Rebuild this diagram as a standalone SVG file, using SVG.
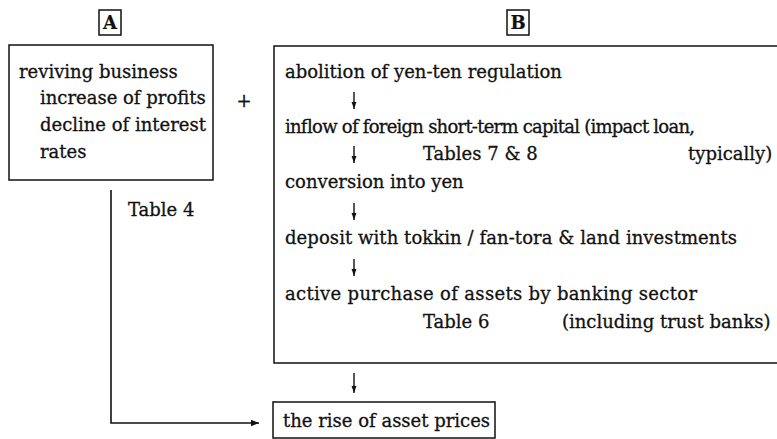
<svg xmlns="http://www.w3.org/2000/svg" width="777" height="439" viewBox="0 0 777 439">
<defs>
<style>
text{font-family:"DejaVu Serif","Liberation Serif",serif;font-size:18px;fill:#111;stroke:#111;stroke-width:0.3;}
.lbl{font-weight:bold;font-size:18px;stroke-width:0.2;}
.box{fill:none;stroke:#111;stroke-width:1.5;}
.conn{fill:none;stroke:#111;stroke-width:1.6;}
.small{fill:none;stroke:#111;stroke-width:1.4;}
</style>
<marker id="ah" viewBox="0 0 10 10" refX="10" refY="5" markerWidth="8" markerHeight="8" markerUnits="userSpaceOnUse" orient="auto">
<path d="M0,1 L10,5 L0,9 Z" fill="#111"/>
</marker>
<marker id="ahs" viewBox="0 0 10 10" refX="10" refY="5" markerWidth="7" markerHeight="7" markerUnits="userSpaceOnUse" orient="auto">
<path d="M0,1.5 L10,5 L0,8.5 Z" fill="#111"/>
</marker>
</defs>
<rect width="777" height="439" fill="#fff"/>

<g id="labelA">
<rect class="box" x="99" y="10" width="22" height="25"/>
<text class="lbl" x="110" y="29" text-anchor="middle">A</text>
</g>
<g id="labelB">
<rect class="box" x="507" y="10" width="22" height="25"/>
<text class="lbl" x="518" y="29" text-anchor="middle">B</text>
</g>

<g id="nodeA">
<rect class="box" x="9" y="45" width="204" height="135"/>
<text x="19" y="78">reviving business</text>
<text x="40" y="104">increase of profits</text>
<text x="40" y="131">decline of interest</text>
<text x="40" y="158">rates</text>
</g>

<g id="plus">
<text x="244" y="107" text-anchor="middle">+</text>
</g>

<g id="nodeB">
<path class="box" d="M777,46 H274 V363 H777"/>
<text x="285" y="78">abolition of yen-ten regulation</text>
<text x="285" y="133" textLength="410" lengthAdjust="spacing">inflow of foreign short-term capital (impact loan,</text>
<text x="423" y="160">Tables 7 &amp; 8</text>
<text x="688" y="160">typically)</text>
<text x="285" y="188">conversion into yen</text>
<text x="285" y="244" textLength="452" lengthAdjust="spacing">deposit with tokkin / fan-tora &amp; land investments</text>
<text x="285" y="300" textLength="412" lengthAdjust="spacing">active purchase of assets by banking sector</text>
<text x="423" y="328">Table 6</text>
<text x="562" y="328">(including trust banks)</text>
</g>

<g id="nodeC">
<rect class="box" x="273" y="402" width="222" height="36"/>
<text x="283" y="427">the rise of asset prices</text>
</g>

<g id="tableA">
<text x="128" y="216">Table 4</text>
</g>

<g id="connectors">
<line class="small" x1="354" y1="92" x2="354" y2="109" marker-end="url(#ahs)"/>
<line class="small" x1="354" y1="146" x2="354" y2="163" marker-end="url(#ahs)"/>
<line class="small" x1="354" y1="203" x2="354" y2="220" marker-end="url(#ahs)"/>
<line class="small" x1="354" y1="259" x2="354" y2="276" marker-end="url(#ahs)"/>
<line class="small" x1="354" y1="373" x2="354" y2="393" marker-end="url(#ahs)"/>
<path class="conn" d="M111,190 V423 H259" marker-end="url(#ah)"/>
</g>
</svg>
